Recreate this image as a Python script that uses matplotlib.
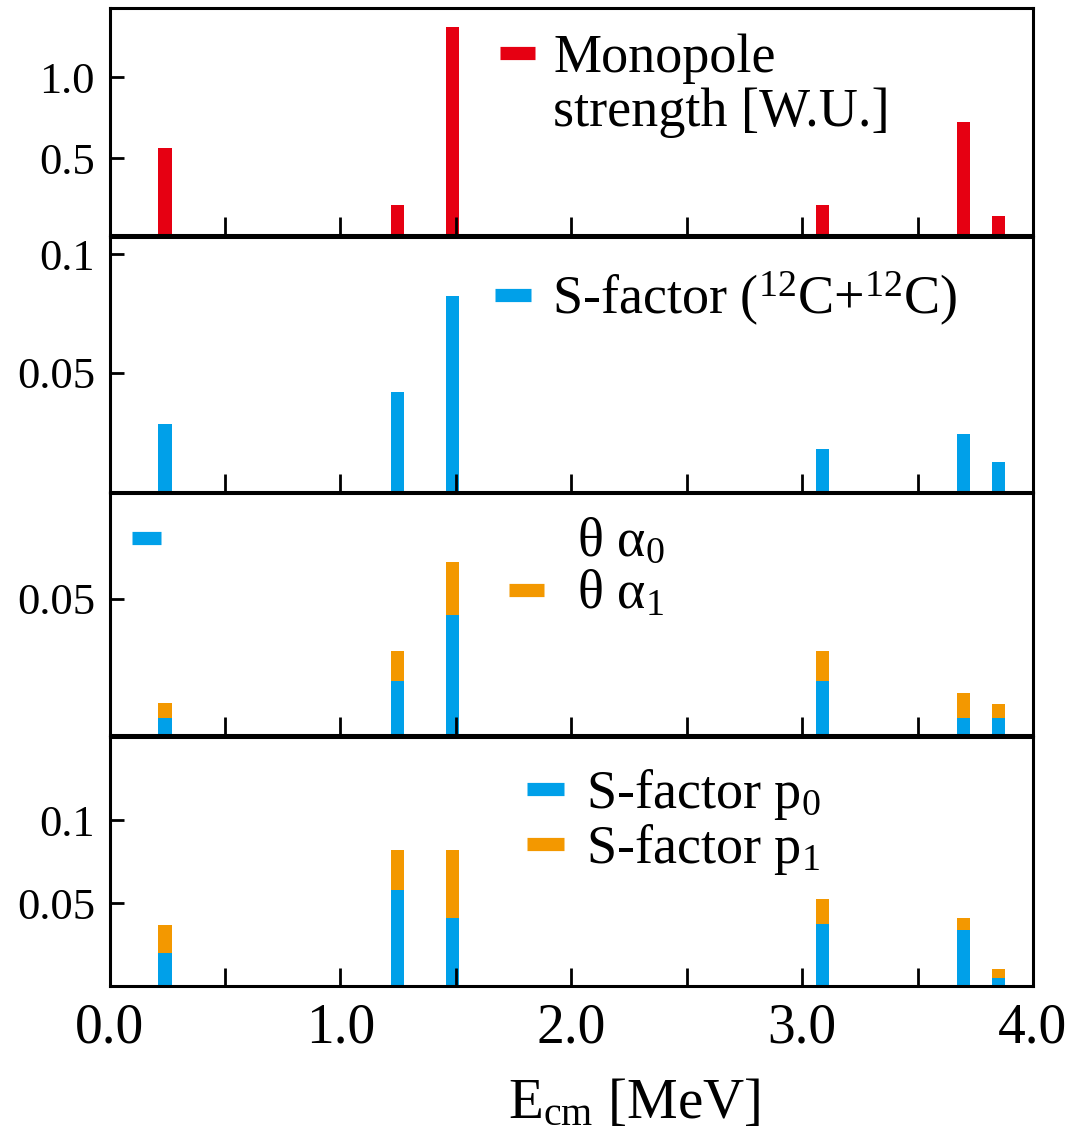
import matplotlib
matplotlib.use("Agg")
import matplotlib.pyplot as plt
from matplotlib.lines import Line2D

plt.rcParams['font.family'] = ['Liberation Serif', 'DejaVu Serif']
plt.rcParams['mathtext.fontset'] = 'custom'
plt.rcParams['mathtext.rm'] = 'Liberation Serif'
plt.rcParams['mathtext.it'] = 'Liberation Serif:italic'
plt.rcParams['mathtext.bf'] = 'Liberation Serif:bold'

# resonance energies (MeV)
energy = [0.24, 1.247, 1.484, 3.09, 3.70, 3.85]

# panel values
monopole = [0.564, 0.21, 1.31, 0.21, 0.724, 0.142]
s_factor_cc = [0.0286, 0.0421, 0.0825, 0.0181, 0.0241, 0.0124]
theta_a0 = [0.0062, 0.0199, 0.0441, 0.0199, 0.0061, 0.0061]
theta_a1 = [0.0055, 0.0110, 0.0195, 0.0110, 0.0092, 0.0053]
s_p0 = [0.0200, 0.0581, 0.0411, 0.0374, 0.0338, 0.0046]
s_p1 = [0.0166, 0.0237, 0.0407, 0.0152, 0.0073, 0.0055]

x_major = [0, 1, 2, 3, 4]
x_major_labels = ["0.0", "1.0", "2.0", "3.0", "4.0"]
x_minor = [0.5, 1.5, 2.5, 3.5]
y_ticks = [[0.5, 1.0], [0.05, 0.1], [0.05], [0.05, 0.1]]
y_tick_labels = [["0.5", "1.0"], ["0.05", "0.1"], ["0.05"], ["0.05", "0.1"]]
y_limits = [(0.025, 1.426), (0, 0.1074), (0, 0.089), (0, 0.150)]

red = "#E60012"
blue = "#00A0E9"
orange = "#F39800"
bar_w = 0.057

fig = plt.figure(figsize=(10.73, 11.34), dpi=100)
rects = [[0.1021, 0.7928, 0.8606, 0.1999],
         [0.1021, 0.5664, 0.8606, 0.2249],
         [0.1021, 0.3519, 0.8606, 0.2134],
         [0.1021, 0.1305, 0.8606, 0.2193]]
axes = [fig.add_axes(r) for r in rects]

axes[0].bar(energy, monopole, width=bar_w, color=red)
axes[1].bar(energy, s_factor_cc, width=bar_w, color=blue)
axes[2].bar(energy, theta_a0, width=bar_w, color=blue)
axes[2].bar(energy, theta_a1, width=bar_w, bottom=theta_a0, color=orange)
axes[3].bar(energy, s_p0, width=bar_w, color=blue)
axes[3].bar(energy, s_p1, width=bar_w, bottom=s_p0, color=orange)

for i, ax in enumerate(axes):
    ax.set_xlim(0, 4)
    ax.set_ylim(*y_limits[i])
    for sp in ax.spines.values():
        sp.set_linewidth(2.2)
    ax.set_xticks(x_major)
    ax.set_xticks(x_minor, minor=True)
    ax.set_yticks(y_ticks[i])
    ax.set_yticklabels(y_tick_labels[i])
    ax.tick_params(axis='x', which='both', direction='in', length=12.7, width=2,
                   top=False, labelbottom=False, labelsize=40, pad=12)
    ax.tick_params(axis='y', which='both', direction='in', length=10.4, width=2,
                   right=False, labelsize=32, pad=10.5)

axes[3].set_xticklabels(x_major_labels)
axes[3].tick_params(axis='x', labelbottom=True)
axes[3].set_xlabel(r'E$_{\rm cm}$ [MeV]', fontsize=41)
axes[3].xaxis.set_label_coords(0.568, -0.37)


def bar_key(c):
    return Line2D([], [], color=c, lw=9.5, solid_capstyle='butt')


leg_kw = dict(frameon=False, fontsize=39, borderpad=0, borderaxespad=0,
              loc='upper left')

axes[0].legend([bar_key(red), Line2D([], [], color='none')],
               ['Monopole', 'strength [W.U.]'],
               bbox_to_anchor=(0.4228, 0.887), handlelength=0.65,
               handletextpad=0.33, labelspacing=0.05, **leg_kw)

axes[1].legend([bar_key(blue)], [r'S-factor ($^{12}$C+$^{12}$C)'],
               bbox_to_anchor=(0.4174, 0.87), handlelength=0.67,
               handletextpad=0.38, **leg_kw)

leg_a = axes[2].legend([bar_key(blue), bar_key(orange)],
                       [r'θ α$_0$', r'θ α$_1$'],
                       bbox_to_anchor=(0.4325, 0.90), handlelength=0.65,
                       handletextpad=0.6, labelspacing=0.05, **leg_kw)
leg_a.legend_handles[0].set_visible(False)
axes[2].add_artist(leg_a)
axes[2].legend([bar_key(blue)], [''], frameon=False, fontsize=39, borderpad=0,
               borderaxespad=0, loc='center left',
               bbox_to_anchor=(0.0243, 0.79), handlelength=0.53)

axes[3].legend([bar_key(blue), bar_key(orange)],
               [r'S-factor p$_0$', r'S-factor p$_1$'],
               bbox_to_anchor=(0.452, 0.88), handlelength=0.69,
               handletextpad=0.4, labelspacing=0.0, **leg_kw)

fig.savefig("out.png", dpi=100)
